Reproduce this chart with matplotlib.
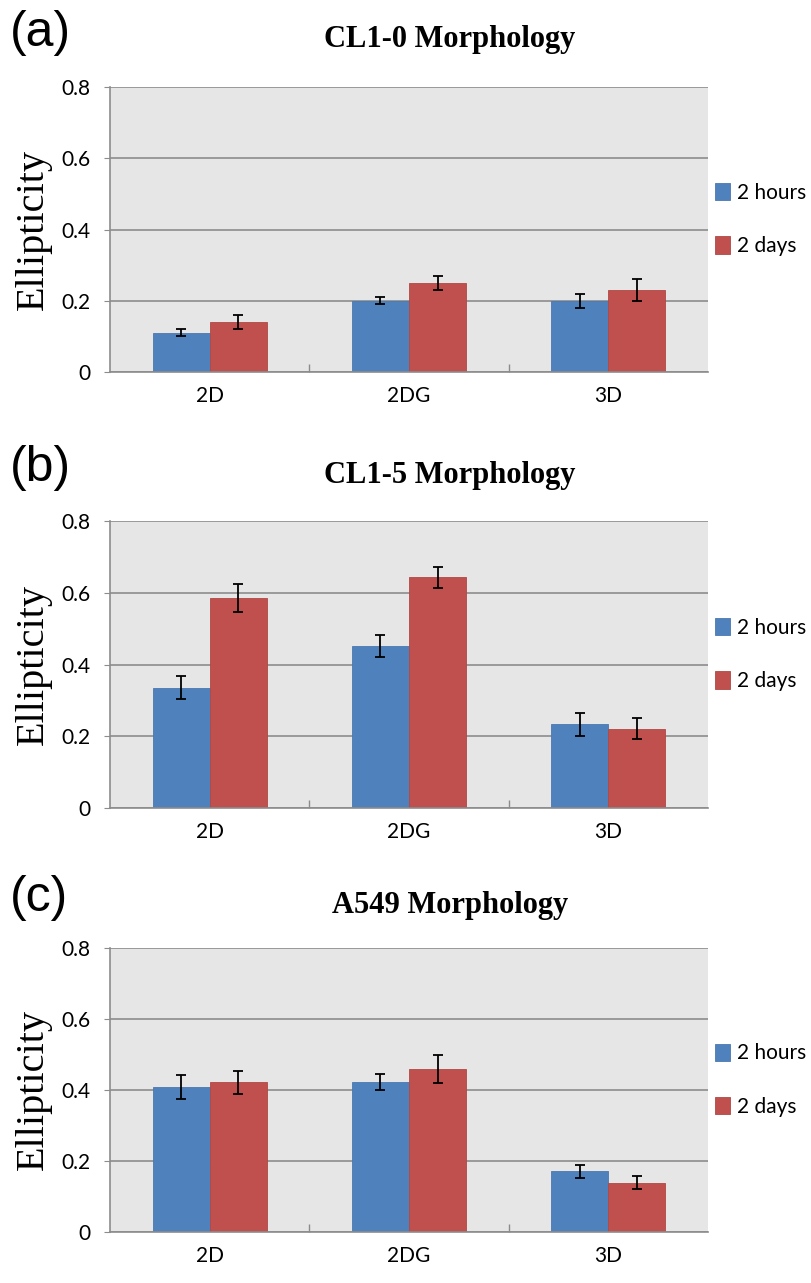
import numpy as np
import matplotlib
matplotlib.use("Agg")
import matplotlib.pyplot as plt

# data
categories = ["2D", "2DG", "3D"]
series_names = ["2 hours", "2 days"]
titles = ["CL1-0 Morphology", "CL1-5 Morphology", "A549 Morphology"]
panel_tags = ["(a)", "(b)", "(c)"]

cl10_hours = [0.11, 0.20, 0.20]
cl10_hours_err = [0.010, 0.010, 0.020]
cl10_days = [0.14, 0.25, 0.23]
cl10_days_err = [0.020, 0.020, 0.030]

cl15_hours = [0.335, 0.452, 0.234]
cl15_hours_err = [0.032, 0.031, 0.032]
cl15_days = [0.585, 0.643, 0.221]
cl15_days_err = [0.038, 0.029, 0.030]

a549_hours = [0.408, 0.422, 0.171]
a549_hours_err = [0.033, 0.022, 0.019]
a549_days = [0.422, 0.459, 0.139]
a549_days_err = [0.032, 0.040, 0.019]

yticks = [0, 0.2, 0.4, 0.6, 0.8]
ytick_labels = ["0", "0.2", "0.4", "0.6", "0.8"]

panels = [
    (cl10_hours, cl10_hours_err, cl10_days, cl10_days_err),
    (cl15_hours, cl15_hours_err, cl15_days, cl15_days_err),
    (a549_hours, a549_hours_err, a549_days, a549_days_err),
]

# colours (Excel 2007 defaults)
blue = "#4F81BD"
red = "#C0504D"
bg = "#E6E6E6"
grid_col = "#8C8C8C"

W, H = 812, 1283
fig = plt.figure(figsize=(W / 100, H / 100), dpi=100)

# plot-area boxes in pixels: (left, top, right, bottom)
boxes = [(110, 87, 708, 372), (110, 521, 708, 808), (110, 948, 708, 1232)]
tag_y = [33, 468, 898]
title_y = [40, 475, 905]

x = np.arange(len(categories))
w = 0.286

for i, (hrs, hrs_err, dys, dys_err) in enumerate(panels):
    l, t, r, b = boxes[i]
    ax = fig.add_axes([l / W, 1 - b / H, (r - l) / W, (b - t) / H])
    ax.set_facecolor(bg)
    ax.set_axisbelow(True)
    ax.yaxis.grid(True, color=grid_col, linewidth=1.2)

    err_kw = dict(ecolor="black", elinewidth=1.3, capsize=3.5, capthick=1.3)
    ax.bar(x - w / 2, hrs, w, yerr=hrs_err, color=blue, edgecolor="#4A78B0",
           linewidth=0.6, label=series_names[0], error_kw=err_kw)
    ax.bar(x + w / 2, dys, w, yerr=dys_err, color=red, edgecolor="#B04845",
           linewidth=0.6, label=series_names[1], error_kw=err_kw)

    ax.set_xlim(-0.5, 2.5)
    ax.set_ylim(0, 0.8)
    ax.set_yticks(yticks)
    ax.set_yticklabels(ytick_labels)
    ax.set_xticks(x)
    ax.set_xticklabels(categories)
    ax.set_xticks([0.5, 1.5], minor=True)

    ax.tick_params(axis="x", which="major", length=0, pad=10, labelsize=15)
    ax.tick_params(axis="x", which="minor", direction="in", length=6,
                   color=grid_col, width=1)
    ax.tick_params(axis="y", length=4, color=grid_col, pad=10, labelsize=15)
    for lab in ax.get_xticklabels() + ax.get_yticklabels():
        lab.set_family("Lato")

    for s in ["top", "right"]:
        ax.spines[s].set_visible(False)
    for s in ["left", "bottom"]:
        ax.spines[s].set_color(grid_col)
        ax.spines[s].set_linewidth(1.2)

    ax.legend(loc="center left", bbox_to_anchor=(0.99, 0.535), frameon=False,
              handlelength=0.75, handleheight=0.9, handletextpad=0.35,
              labelspacing=1.6, borderaxespad=0.2,
              prop={"family": "Lato", "size": 15})

    fig.text(450 / W, 1 - title_y[i] / H, titles[i], ha="center", va="center",
             family="Liberation Serif", fontweight="bold", fontsize=22)
    fig.text(10 / W, 1 - tag_y[i] / H, panel_tags[i], ha="left", va="center",
             family="Liberation Sans", fontsize=36)
    fig.text(33 / W, 1 - (t + b) / 2 / H, "Ellipticity", rotation=90,
             ha="center", va="center", family="Liberation Serif", fontsize=29)

fig.savefig("out.png", dpi=100, facecolor="white")
